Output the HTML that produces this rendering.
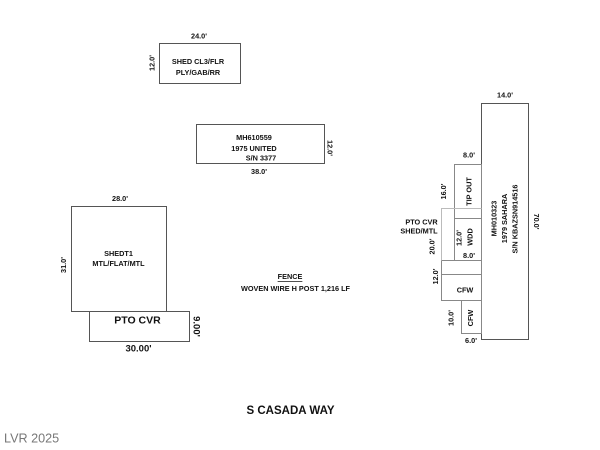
<!DOCTYPE html>
<html><head><meta charset="utf-8"><style>
html,body{margin:0;padding:0;background:#fff;}
svg{display:block;}
text{font-family:"Liberation Sans",Arial,sans-serif;font-weight:bold;fill:#111;}
</style></head><body>
<svg width="600" height="450" viewBox="0 0 600 450" xmlns="http://www.w3.org/2000/svg">
<g fill="none" stroke="#555" stroke-width="1">
<rect x="159.5" y="43.5" width="81" height="40"/>
<rect x="196.5" y="124.5" width="128" height="39"/>
<rect x="71.5" y="206.5" width="95" height="105"/>
<rect x="89.5" y="311.5" width="100" height="30"/>
<rect x="481.5" y="103.5" width="47" height="236"/>
</g>
<g fill="none" stroke="#888" stroke-width="1">
<rect x="454.5" y="164.5" width="27" height="54"/>
<rect x="454.5" y="218.5" width="27" height="42"/>
<rect x="441.5" y="260.5" width="40" height="40"/>
<line x1="441.5" y1="274.5" x2="481.5" y2="274.5"/>
<rect x="461.5" y="300.5" width="20" height="33"/>
</g>
<g fill="none" stroke="#bbb" stroke-width="1">
<polyline points="454.5,208.5 441.5,208.5 441.5,260.5"/>
<line x1="454.5" y1="208.5" x2="481.5" y2="208.5"/>
</g>
<g font-size="7.3" text-anchor="middle" dominant-baseline="central">
<text x="199" y="36">24.0'</text>
<text transform="translate(152,63) rotate(-90)">12.0'</text>
<text x="198" y="61.5">SHED CL3/FLR</text>
<text x="198" y="72.5">PLY/GAB/RR</text>
<text x="254" y="137.5">MH610559</text>
<text x="254" y="148.5">1975 UNITED</text>
<text x="261" y="158">S/N 3377</text>
<text x="259" y="171.5">38.0'</text>
<text transform="translate(330,148) rotate(90)">12.0'</text>
<text x="120" y="198.5">28.0'</text>
<text transform="translate(63.5,265) rotate(-90)">31.0'</text>
<text x="118.5" y="253.5">SHEDT1</text>
<text x="118.5" y="263.5">MTL/FLAT/MTL</text>
<text x="290" y="276.5" text-decoration="underline">FENCE</text>
<text x="295.5" y="288.5">WOVEN WIRE H POST 1,216 LF</text>
<text x="505" y="95">14.0'</text>
<text transform="translate(536.5,221.5) rotate(90)">70.0'</text>
<text transform="translate(494,218.5) rotate(-90)">MH010323</text>
<text transform="translate(504.5,218.5) rotate(-90)">1979 SAHARA</text>
<text transform="translate(515,219) rotate(-90)">S/N KBAZSN914516</text>
<text x="469" y="155">8.0'</text>
<text transform="translate(443.5,191.5) rotate(-90)">16.0'</text>
<text transform="translate(469,191.5) rotate(-90)">TIP OUT</text>
<text x="421.5" y="222">PTO CVR</text>
<text x="419" y="231">SHED/MTL</text>
<text transform="translate(432,246.5) rotate(-90)">20.0'</text>
<text transform="translate(459,238) rotate(-90)">12.0'</text>
<text transform="translate(470,237) rotate(-90)">WDD</text>
<text x="469" y="255.5">8.0'</text>
<text transform="translate(435.5,276.5) rotate(-90)">12.0'</text>
<text x="465" y="290">CFW</text>
<text transform="translate(451,318) rotate(-90)">10.0'</text>
<text transform="translate(470.5,318) rotate(-90)">CFW</text>
<text x="471" y="340.5">6.0'</text>
</g>
<g text-anchor="middle" dominant-baseline="central">
<text x="137.5" y="320.5" font-size="10.5">PTO CVR</text>
<text x="138.5" y="349" font-size="9.5">30.00'</text>
<text transform="translate(196,326.5) rotate(90)" font-size="9.5">9.00'</text>
<text x="290.5" y="411" font-size="11.5">S CASADA WAY</text>
</g>
<text x="4" y="438.5" font-size="12.6" dominant-baseline="central" style="font-weight:normal;fill:#777;">LVR 2025</text>
</svg>
</body></html>
